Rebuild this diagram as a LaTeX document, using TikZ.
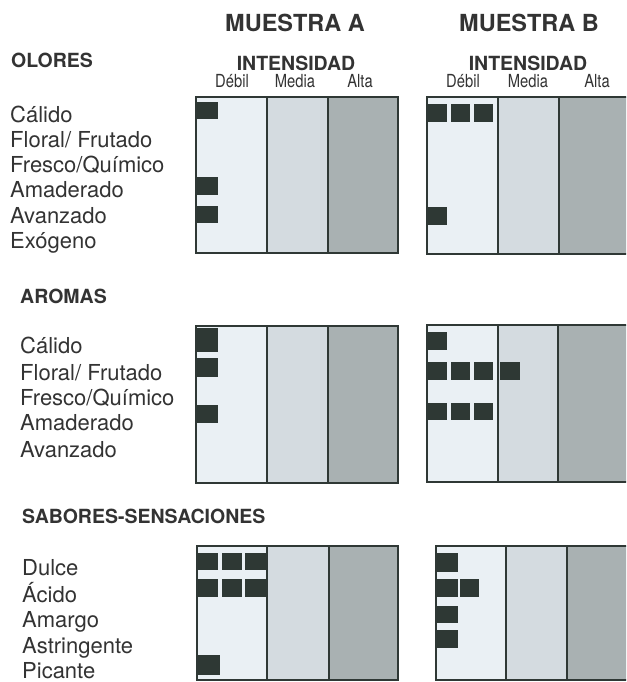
\documentclass[tikz,border=0pt]{standalone}
\usepackage{fontspec}
\setmainfont{TeX Gyre Heros}
\newfontfamily\narrowfont[FakeStretch=0.82]{TeX Gyre Heros}
\definecolor{txt}{HTML}{333333}
\definecolor{cDeb}{HTML}{EAF0F4}
\definecolor{cMed}{HTML}{D4DBE0}
\definecolor{cAlt}{HTML}{A9B1B2}
\definecolor{cSq}{HTML}{2E3834}
\definecolor{cFr}{HTML}{2F3835}
\tikzset{
  frame/.style={draw=cFr,line width=2.6pt},
  sqbox/.style={fill=cSq},
  lbl/.style={anchor=base west,inner sep=0pt,text=txt,font=\fontsize{22}{25}\selectfont},
  hdr/.style={anchor=base west,inner sep=0pt,text=txt,font=\bfseries\fontsize{19.5}{22}\selectfont},
  ttl/.style={anchor=base,inner sep=0pt,text=txt,font=\bfseries\fontsize{23.5}{27}\selectfont},
  intens/.style={anchor=base,inner sep=0pt,text=txt,font=\bfseries\fontsize{19.5}{23}\selectfont},
  lvl/.style={anchor=base,inner sep=0pt,text=txt,font=\narrowfont\fontsize{18}{20}\selectfont}
}
\newcommand\panelfill[6]{%
  \fill[cDeb] (#1,#2) rectangle (#3,#6);
  \fill[cMed] (#3,#2) rectangle (#4,#6);
  \fill[cAlt] (#4,#2) rectangle (#5,#6);}
\newcommand\panelframe[6]{%
  \draw[frame] (#1,#2) rectangle (#5,#6);
  \draw[frame] (#3,#2) -- (#3,#6);
  \draw[frame] (#4,#2) -- (#4,#6);}
\newcommand\sq[4]{\fill[sqbox] (#1,#2) rectangle (#3,#4);}
\begin{document}
\begin{tikzpicture}[x=1pt,y=-1pt]
\useasboundingbox (0,0) rectangle (626,682);
\clip (0,0) rectangle (626,682);
\fill[white] (0,0) rectangle (626,682);
% titles
\node[ttl] (ma) at (295,32) {MUESTRA A};
\node[ttl] (mb) at (529,32) {MUESTRA B};
\node[intens] (ia) at (296,71) {INTENSIDAD};
\node[intens] (ib) at (528,71) {INTENSIDAD};
\node[lvl] (da) at (232,88) {Débil};
\node[lvl] (mda) at (295,88) {Media};
\node[lvl] (aa) at (360,88) {Alta};
\node[lvl] (db) at (463,88) {Débil};
\node[lvl] (mdb) at (528,88) {Media};
\node[lvl] (ab) at (597,88) {Alta};
% OLORES
\node[hdr] (ho) at (11,68) {OLORES};
\node[lbl] (o1) at (10,122) {Cálido};
\node[lbl] (o2) at (10,147) {Floral/ Frutado};
\node[lbl] (o3) at (10,172) {Fresco/Químico};
\node[lbl] (o4) at (10,197) {Amaderado};
\node[lbl] (o5) at (10,223) {Avanzado};
\node[lbl] (o6) at (10,248) {Exógeno};
% AROMAS
\node[hdr] (ha) at (20,303) {AROMAS};
\node[lbl] (a1) at (20,353) {Cálido};
\node[lbl] (a2) at (20,380) {Floral/ Frutado};
\node[lbl] (a3) at (20,405) {Fresco/Químico};
\node[lbl] (a4) at (20,430) {Amaderado};
\node[lbl] (a5) at (20,457) {Avanzado};
% SABORES
\node[hdr] (hs) at (22,523) {SABORES-SENSACIONES};
\node[lbl] (s1) at (22,575) {Dulce};
\node[lbl] (s2) at (22,602) {Ácido};
\node[lbl] (s3) at (22,627) {Amargo};
\node[lbl] (s4) at (22,653) {Astringente};
\node[lbl] (s5) at (22,678) {Picante};
% panels: fills
\panelfill{196}{97}{267}{328}{398}{253}
\panelfill{427}{97}{498}{559}{640}{254}
\panelfill{196}{326}{267}{328}{398}{483}
\panelfill{427}{325}{498}{558}{640}{482}
\panelfill{197}{546}{267}{329}{398}{680}
\panelfill{436}{546}{506}{567}{640}{680}
% squares OLORES
\sq{197}{102}{218}{119}
\sq{197}{177}{218}{195}
\sq{197}{206}{218}{223}
\sq{428}{104}{447}{122}
\sq{451}{104}{470}{122}
\sq{474}{104}{493}{122}
\sq{428}{207}{447}{225}
% squares AROMAS
\sq{197}{328}{218}{352}
\sq{197}{358}{218}{377}
\sq{197}{405}{218}{423}
\sq{428}{332}{447}{350}
\sq{428}{362}{447}{380}
\sq{451}{362}{470}{380}
\sq{474}{362}{493}{380}
\sq{500}{362}{520}{380}
\sq{428}{403}{447}{420}
\sq{451}{403}{470}{420}
\sq{474}{403}{493}{420}
% squares SABORES
\sq{197}{553}{218}{570}
\sq{222}{553}{242}{570}
\sq{245}{553}{267}{570}
\sq{197}{579}{218}{597}
\sq{222}{579}{242}{597}
\sq{245}{579}{267}{597}
\sq{197}{655}{220}{675}
\sq{437}{553}{458}{572}
\sq{437}{579}{458}{597}
\sq{460}{579}{479}{597}
\sq{437}{606}{458}{623}
\sq{437}{630}{458}{648}
% frames
\panelframe{196}{97}{267}{328}{398}{253}
\panelframe{427}{97}{498}{559}{640}{254}
\panelframe{196}{326}{267}{328}{398}{483}
\panelframe{427}{325}{498}{558}{640}{482}
\panelframe{197}{546}{267}{329}{398}{680}
\panelframe{436}{546}{506}{567}{640}{680}
\end{tikzpicture}
\end{document}
